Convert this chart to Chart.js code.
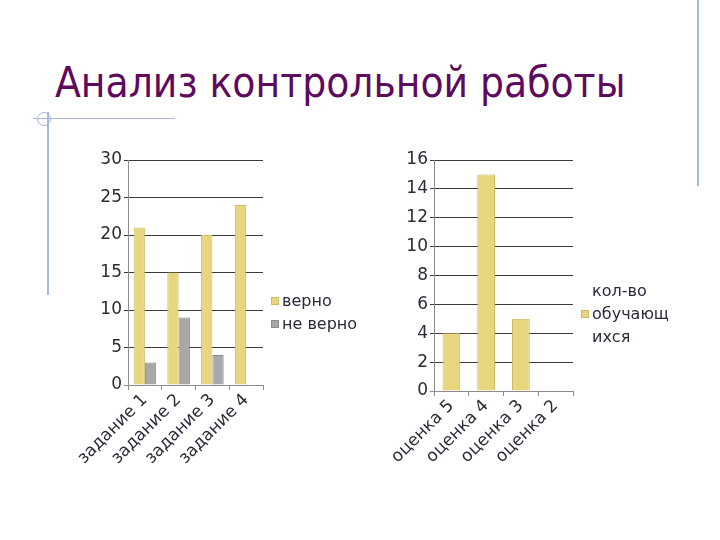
<!DOCTYPE html>
<html>
<head>
<meta charset="utf-8">
<script src="https://cdn.jsdelivr.net/npm/chart.js@4.4.0/dist/chart.umd.min.js"></script>
<style>
    body { margin: 0; background: #fff; }
    #page { position: relative; width: 720px; height: 540px; overflow: hidden; font-family: 'DejaVu Sans', sans-serif; }
    .title { position: absolute; left: 55px; top: 58px; font-size: 42px; color: #5e0a5e; white-space: nowrap; font-family: 'DejaVu Sans Condensed', 'DejaVu Sans', sans-serif; }
    .deco { position: absolute; background: #a9b7dc; }
    .ring { position: absolute; left: 37px; top: 112px; width: 12px; height: 12px; border: 1px solid #a9b7dc; border-radius: 50%; }
    .chartBox { position: absolute; top: 140px; width: 360px; height: 400px; }
    .legend { position: absolute; font-size: 16px; color: #2b2b3a; line-height: 23px; }
    .legend .sw { display: inline-block; width: 8px; height: 8px; margin-right: 3px; vertical-align: 1px; box-sizing: border-box; }
</style>
</head>
<body>
<div id="page">
    <div class="deco" style="left:697px; top:0; width:2px; height:186px;"></div>
    <div class="deco" style="left:33px; top:118px; width:142px; height:1px;"></div>
    <div class="deco" style="left:47px; top:112px; width:2px; height:183px;"></div>
    <div class="ring"></div>
    <div class="title">Анализ контрольной работы</div>

    <div class="chartBox" style="left:0;"><canvas id="tasksChart"></canvas></div>
    <div class="chartBox" style="left:360px;"><canvas id="gradesChart"></canvas></div>

    <div class="legend" style="left:271px; top:289px;">
        <div><span class="sw" style="background:#e8d67f;border:1px solid #cdbb62;"></span>верно</div>
        <div><span class="sw" style="background:#a8a8a8;border:1px solid #8c8c8c;"></span>не верно</div>
    </div>
    <div class="legend" style="left:581px; top:279px;">
        <div style="padding-left:11px;">кол-во</div>
        <div><span class="sw" style="background:#e8d67f;border:1px solid #cdbb62;"></span>обучающ</div>
        <div style="padding-left:11px;">ихся</div>
    </div>
</div>

<script>
// data
const taskLabels = ['задание 1', 'задание 2', 'задание 3', 'задание 4'];
const correctValues = [21, 15, 20, 24];
const wrongValues = [3, 9, 4, 0];

const gradeLabels = ['оценка 5', 'оценка 4', 'оценка 3', 'оценка 2'];
const studentCounts = [4, 15, 5, 0];

const fontFamily = "'DejaVu Sans', sans-serif";
const textColor = '#2b2b3a';
const gridColor = '#3a3a3a';

function baseOptions(yMax, yStep, padding) {
    return {
        responsive: false,
        animation: false,
        layout: { padding: padding },
        plugins: {
            legend: { display: false },
            tooltip: { enabled: false }
        },
        scales: {
            x: {
                grid: {
                    display: true,
                    drawOnChartArea: false,
                    drawTicks: true,
                    tickLength: 5,
                    color: '#8c8c8c',
                    offset: true
                },
                border: { color: '#8c8c8c' },
                ticks: {
                    minRotation: 45,
                    maxRotation: 45,
                    color: textColor,
                    font: { family: fontFamily, size: 17 },
                    padding: 0
                },
                afterFit: axis => { axis.height = 100; }
            },
            y: {
                min: 0,
                max: yMax,
                grid: {
                    color: ctx => ctx.tick.value === 0 ? '#8c8c8c' : gridColor,
                    drawTicks: true,
                    tickLength: 4
                },
                border: { color: '#8c8c8c' },
                ticks: {
                    stepSize: yStep,
                    color: textColor,
                    font: { family: fontFamily, size: 17 },
                    padding: 2
                },
                afterFit: axis => { axis.width = 48; }
            }
        }
    };
}

function makeChart(canvasId, config) {
    const canvas = document.getElementById(canvasId);
    canvas.width = 360;
    canvas.height = 400;
    return new Chart(canvas, config);
}

makeChart('tasksChart', {
    type: 'bar',
    data: {
        labels: taskLabels,
        datasets: [
            {
                label: 'верно',
                data: correctValues,
                backgroundColor: '#e8d67f',
                borderColor: '#cdbb62',
                borderWidth: 1,
                categoryPercentage: 0.67,
                barPercentage: 1.0
            },
            {
                label: 'не верно',
                data: wrongValues,
                backgroundColor: '#a8a8a8',
                borderColor: '#8c8c8c',
                borderWidth: 1,
                categoryPercentage: 0.67,
                barPercentage: 1.0
            }
        ]
    },
    options: baseOptions(30, 5, { left: 80, right: 97, top: 20, bottom: 55 })
});

makeChart('gradesChart', {
    type: 'bar',
    data: {
        labels: gradeLabels,
        datasets: [
            {
                label: 'кол-во обучающихся',
                data: studentCounts,
                backgroundColor: '#e8d67f',
                borderColor: '#cdbb62',
                borderWidth: 1,
                categoryPercentage: 0.51,
                barPercentage: 1.0
            }
        ]
    },
    options: baseOptions(16, 2, { left: 26, right: 147, top: 20, bottom: 49 })
});
</script>
</body>
</html>
